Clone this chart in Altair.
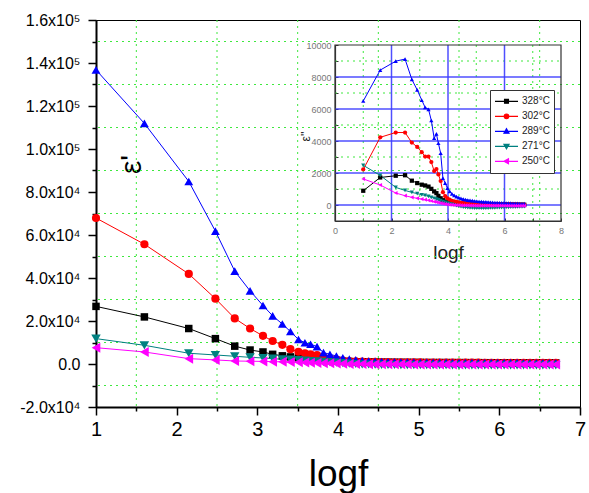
import altair as alt
import pandas as pd

FONT = "Liberation Sans"
GREEN = "#3ee83e"
BLUE = "#3c3cff"

series = ["328°C", "302°C", "289°C", "271°C", "250°C"]
colors = ["#000000", "#ff0000", "#0000ff", "#008080", "#ff00ff"]
shapes = ["square", "circle", "triangle-up", "triangle-down", "triangle-left"]
main_sizes = [56, 100, 135, 100, 100]
legend_paths = [
    "M-1,0H1M-0.17,-0.17H0.17V0.17H-0.17Z",
    "M-1,0H1M0.2,0A0.2,0.2 0 1,1 -0.2,0A0.2,0.2 0 1,1 0.2,0Z",
    "M-1,0H1M0,-0.22L0.22,0.17H-0.22Z",
    "M-1,0H1M0,0.22L0.22,-0.17H-0.22Z",
    "M-1,0H1M-0.22,0L0.17,-0.22V0.22Z",
]

logf = [1.0, 1.6, 2.15, 2.48, 2.72, 2.91, 3.07, 3.19, 3.31, 3.41, 3.51, 3.59, 3.66, 3.74, 3.82, 3.9, 3.98, 4.06,
        4.14, 4.22, 4.30, 4.38, 4.46, 4.54, 4.62, 4.70, 4.78, 4.86, 4.94, 5.02, 5.10, 5.18, 5.26, 5.34, 5.42,
        5.50, 5.58, 5.66, 5.74, 5.82, 5.90, 5.98, 6.06, 6.14, 6.22, 6.30, 6.38, 6.46, 6.54, 6.62, 6.70]

# eps' (main chart)
eps1_328 = [26800, 21900, 16500, 11800, 8300, 6500, 5600, 4500, 3800, 3300, 2900, 2600, 2300, 2000, 1800, 1600, 1400, 1250,
            1150, 1050, 1000, 950, 900, 860, 830, 800, 780, 760, 740, 720, 700, 690, 680, 670, 660, 650, 640, 630,
            620, 610, 600, 590, 580, 570, 560, 550, 540, 530, 520, 510, 500]
eps1_302 = [67900, 55700, 41900, 30400, 21200, 16500, 13100, 10700, 8900, 6900, 5700, 5000, 4500, 4200, 3200, 2500, 2000, 1600,
            1350, 1200, 1100, 1000, 950, 900, 860, 820, 790, 760, 740, 720, 700, 680, 660, 650, 640, 630,
            620, 610, 600, 590, 580, 570, 560, 550, 540, 530, 520, 510, 500, 490, 480]
eps1_289 = [136800, 111900, 84900, 61800, 43200, 34000, 27200, 22400, 18600, 15100, 11400, 9900, 9200, 8100, 5300, 4500, 3700, 2900,
            2300, 1900, 1600, 1400, 1250, 1150, 1050, 1000, 950, 900, 860, 830, 800, 780, 760, 740, 720, 700,
            690, 680, 670, 660, 650, 640, 630, 620, 610, 600, 590, 580, 570, 560, 550]
eps1_271 = [11800, 8700, 5000, 4200, 3600, 3100, 2800, 2500, 2200, 2000, 1800, 1600, 1400, 1200, 1000, 800, 600, 400,
            200, 0, -150, -250, -350, -400, -450, -480, -500, -520, -540, -550, -560, -570, -580, -590, -600, -600,
            -610, -610, -620, -620, -630, -630, -640, -640, -650, -650, -650, -660, -660, -660, -670]
eps1_250 = [7600, 5600, 2500, 1900, 1400, 1300, 1200, 1100, 1000, 900, 800, 700, 600, 500, 400, 300, 200, 100,
            50, 0, -40, -80, -100, -120, -140, -150, -160, -170, -180, -190, -200, -200, -210, -210, -220, -220,
            -230, -230, -240, -240, -250, -250, -250, -260, -260, -260, -270, -270, -270, -280, -280]

# eps'' (inset)
eps2_328 = [890, 1720, 1830, 1860, 1520, 1370, 1270, 1220, 1150, 1010, 850, 740, 570, 420, 300, 220, 170, 130,
            110, 95, 85, 78, 72, 66, 60, 56, 52, 48, 45, 42, 40, 38, 36, 34, 32, 30,
            28, 27, 26, 25, 24, 23, 22, 21, 20, 19, 18, 17, 16, 15, 14]
eps2_302 = [2220, 4230, 4530, 4530, 3900, 3630, 3300, 3030, 3030, 2680, 2120, 2250, 1910, 1500, 800, 550, 420, 330,
            260, 220, 190, 170, 150, 135, 120, 110, 100, 92, 85, 80, 75, 70, 66, 62, 58, 55,
            52, 50, 48, 46, 44, 42, 40, 38, 36, 34, 32, 30, 28, 26, 24]
eps2_289 = [6500, 8430, 8990, 9120, 7850, 7190, 6560, 6100, 5980, 5280, 4170, 4440, 3860, 3240, 1680, 1370, 1060, 850,
            700, 600, 520, 460, 410, 370, 340, 310, 290, 270, 250, 235, 220, 210, 200, 190, 180, 170,
            160, 150, 145, 140, 135, 130, 125, 120, 115, 110, 105, 100, 95, 90, 85]
eps2_271 = [2480, 1850, 1100, 910, 790, 710, 640, 600, 540, 480, 420, 370, 320, 270, 220, 170, 120, 80,
            40, 0, -40, -80, -110, -130, -150, -165, -175, -185, -190, -195, -200, -200, -200, -195, -190, -185,
            -180, -175, -170, -165, -160, -155, -150, -145, -140, -135, -130, -125, -120, -115, -110]
eps2_250 = [1630, 1250, 750, 580, 480, 420, 370, 330, 290, 250, 210, 180, 150, 120, 90, 60, 40, 20,
            10, 0, -10, -15, -20, -25, -30, -30, -35, -35, -38, -40, -40, -42, -42, -44, -44, -45,
            -45, -45, -46, -46, -46, -47, -47, -47, -48, -48, -48, -48, -49, -49, -50]

main_x_ticks = [1, 2, 3, 4, 5, 6, 7]
main_x_minor = [1.5, 2.5, 3.5, 4.5, 5.5, 6.5]
main_y_ticks = [-20000, 0, 20000, 40000, 60000, 80000, 100000, 120000, 140000, 160000]
main_y_minor = [-10000, 10000, 30000, 50000, 70000, 90000, 110000, 130000, 150000]
inset_x_ticks = [0, 2, 4, 6, 8]
inset_x_grid = [2, 4, 6]
inset_x_minor = [1, 3, 5, 7]
inset_y_ticks = [0, 2000, 4000, 6000, 8000, 10000]
inset_y_grid = [0, 2000, 4000, 6000, 8000]
inset_y_minor = [1000, 3000, 5000, 7000, 9000]

rows_main, rows_inset = [], []
for s, v1, v2 in zip(series, [eps1_328, eps1_302, eps1_289, eps1_271, eps1_250],
                     [eps2_328, eps2_302, eps2_289, eps2_271, eps2_250]):
    for x, a, b in zip(logf, v1, v2):
        rows_main.append({"x": x, "y": a, "s": s})
        rows_inset.append({"x": x, "y": b, "s": s})
df_main = pd.DataFrame(rows_main)
df_inset = pd.DataFrame(rows_inset)

mx = alt.Scale(domain=[1, 7], nice=False, zero=False)
my = alt.Scale(domain=[-20000, 160000], nice=False, zero=False)
ix = alt.Scale(domain=[0, 8], range=[239, 465], nice=False, zero=False)
iy = alt.Scale(domain=[-1000, 10000], range=[201, 25], nice=False, zero=False)
col_scale = alt.Scale(domain=series, range=colors)

y_label_expr = ("datum.value == 0 ? '0.0' : (abs(datum.value) >= 100000 ? "
                "format(datum.value / 100000, '.1f') + 'x10\u2075' : "
                "replace(format(datum.value / 10000, '.1f'), '\u2212', '-') + 'x10\u2074')")

main_x_axis = alt.Axis(orient="bottom", values=main_x_ticks, format="d", tickSize=8, tickWidth=1.5,
                       tickColor="black", labelFontSize=20, labelColor="black", labelPadding=4,
                       domainColor="black", domainWidth=2, grid=False, labelFlush=False, labelOverlap=False,
                       title="logf", titleFontSize=37, titleFontWeight="normal", titleX=242, titleY=78,
                       titleAlign="center", titleBaseline="alphabetic", titleColor="black")
main_y_axis = alt.Axis(orient="left", values=main_y_ticks, labelExpr=y_label_expr, tickSize=8, tickWidth=1.5,
                       tickColor="black", labelFontSize=16, labelColor="black", labelPadding=8,
                       domainColor="black", domainWidth=2, grid=False, labelFlush=False, labelOverlap=False,
                       title="ε'", titleFontSize=30, titleFontWeight="normal", titleX=44, titleY=144,
                       titleAngle=270, titleAlign="center", titleBaseline="alphabetic", titleColor="black")

# main minor grid
vgrid = alt.Chart(pd.DataFrame({"v": main_x_minor})).mark_rule(
    color=GREEN, strokeDash=[2, 4], strokeWidth=1).encode(
    x=alt.X("v:Q", scale=mx, axis=alt.Axis(orient="bottom", values=main_x_minor, labels=False, tickSize=4,
                                          tickColor="black", tickWidth=1.5, domain=False, grid=False, title=None)))
hgrid = alt.Chart(pd.DataFrame({"v": main_y_minor})).mark_rule(
    color=GREEN, strokeDash=[2, 4], strokeWidth=1).encode(
    y=alt.Y("v:Q", scale=my, axis=alt.Axis(orient="left", values=main_y_minor, labels=False, tickSize=4,
                                          tickColor="black", tickWidth=1.5, domain=False, grid=False, title=None)))

main_lines = alt.Chart(df_main).mark_line(strokeWidth=1).encode(
    x=alt.X("x:Q", scale=mx, axis=main_x_axis),
    y=alt.Y("y:Q", scale=my, axis=main_y_axis),
    color=alt.Color("s:N", scale=col_scale, legend=None),
    detail="s:N")
main_points = alt.Chart(df_main).mark_point(filled=True, opacity=1).encode(
    x=alt.X("x:Q", scale=mx, axis=None),
    y=alt.Y("y:Q", scale=my, axis=None),
    color=alt.Color("s:N", scale=col_scale, legend=None),
    shape=alt.Shape("s:N", scale=alt.Scale(domain=series, range=shapes), legend=None),
    size=alt.Size("s:N", scale=alt.Scale(domain=series, range=main_sizes), legend=None))

# inset
inset_x_axis = alt.Axis(orient="bottom", offset=-186, values=inset_x_ticks, format="d", ticks=False,
                        labelFontSize=9, labelColor="#777777", labelPadding=5, domainColor="#333333",
                        domainWidth=1.2, grid=False, labelFlush=False, title="logf", titleFontSize=19,
                        titleFontWeight="normal", titleX=352, titleY=37, titleAlign="center",
                        titleBaseline="alphabetic", titleColor="#222222")
inset_y_axis = alt.Axis(orient="left", offset=-239, values=inset_y_ticks, format="d", ticks=False,
                        labelFontSize=9, labelColor="#777777", labelPadding=4, domainColor="#333333",
                        domainWidth=1.2, grid=False, labelFlush=False, title="ε''", titleFontSize=12,
                        titleFontWeight="normal", titleX=-26, titleY=116, titleAngle=270, titleAlign="center",
                        titleBaseline="alphabetic", titleColor="#222222")

iv_major = alt.Chart(pd.DataFrame({"v": inset_x_grid})).mark_rule(color=BLUE, strokeWidth=1.5, opacity=0.9).encode(
    x=alt.X("v:Q", scale=ix, axis=inset_x_axis),
    y=alt.YDatum(-1000, scale=iy, axis=None), y2=alt.Y2Datum(10000))
ih_major = alt.Chart(pd.DataFrame({"v": inset_y_grid})).mark_rule(color=BLUE, strokeWidth=1.5, opacity=0.9).encode(
    y=alt.Y("v:Q", scale=iy, axis=inset_y_axis),
    x=alt.XDatum(0, scale=ix, axis=None), x2=alt.X2Datum(8))
iv_minor = alt.Chart(pd.DataFrame({"v": inset_x_minor})).mark_rule(color=GREEN, strokeDash=[2, 4]).encode(
    x=alt.X("v:Q", scale=ix, axis=None),
    y=alt.YDatum(-1000, scale=iy, axis=None), y2=alt.Y2Datum(10000))
ih_minor = alt.Chart(pd.DataFrame({"v": inset_y_minor})).mark_rule(color=GREEN, strokeDash=[2, 4]).encode(
    y=alt.Y("v:Q", scale=iy, axis=None),
    x=alt.XDatum(0, scale=ix, axis=None), x2=alt.X2Datum(8))
iframe = alt.Chart(alt.Data(values=[{}])).mark_rect(fillOpacity=0, stroke="#333333", strokeWidth=1.2).encode(
    x=alt.XDatum(0, scale=ix, axis=alt.Axis(orient="top", offset=-201, values=list(range(9)), labels=False,
                                           tickSize=3, tickColor="#333333", domain=False, grid=False, title=None)),
    x2=alt.X2Datum(8),
    y=alt.YDatum(-1000, scale=iy, axis=alt.Axis(orient="right", offset=-245, values=inset_y_ticks + inset_y_minor,
                                               labels=False, tickSize=3, tickColor="#333333", domain=False,
                                               grid=False, title=None)),
    y2=alt.Y2Datum(10000))
inset_lines = alt.Chart(df_inset).mark_line(strokeWidth=1).encode(
    x=alt.X("x:Q", scale=ix, axis=None),
    y=alt.Y("y:Q", scale=iy, axis=None),
    color=alt.Color("s:N", scale=col_scale, legend=None),
    detail="s:N")
inset_points = alt.Chart(df_inset).mark_point(filled=True, opacity=1, size=18).encode(
    x=alt.X("x:Q", scale=ix, axis=None),
    y=alt.Y("y:Q", scale=iy, axis=None),
    color=alt.Color("s:N", scale=col_scale, legend=None),
    shape=alt.Shape("s:N", scale=alt.Scale(domain=series, range=shapes), legend=None))

leg = dict(orient="none", legendX=394, legendY=70, title=None, fillColor="white", strokeColor="#333333",
           padding=4, rowPadding=0, clipHeight=14.6, symbolSize=529, symbolStrokeWidth=1.2, symbolOpacity=1,
           labelFontSize=10, labelFont=FONT, labelColor="#222222", labelOffset=3,
           labelExpr="datum.label + '\u00a0\u00a0'")
legend_layer = alt.Chart(pd.DataFrame({"s": series})).transform_filter("false").mark_point(filled=True).encode(
    fill=alt.Fill("s:N", scale=col_scale, legend=alt.Legend(**leg)),
    stroke=alt.Stroke("s:N", scale=col_scale, legend=alt.Legend(**leg)),
    shape=alt.Shape("s:N", scale=alt.Scale(domain=series, range=legend_paths), legend=alt.Legend(**leg)))

chart = alt.layer(
    vgrid, hgrid, iv_minor, ih_minor, iv_major, ih_major, iframe,
    main_lines, main_points, inset_lines, inset_points, legend_layer
).resolve_scale(
    x="independent", y="independent", color="independent", shape="independent",
    size="independent", fill="independent", stroke="independent"
).resolve_axis(
    x="independent", y="independent"
).properties(
    width=484, height=387,
    autosize=alt.AutoSizeParams(type="none"),
    padding={"left": 96, "top": 20, "right": 9, "bottom": 86},
    background="white"
).configure_view(
    stroke="black", strokeWidth=1
).configure_axis(
    labelFont=FONT, titleFont=FONT
)

chart.save("out.html", embed_options={"renderer": "svg", "actions": False})
